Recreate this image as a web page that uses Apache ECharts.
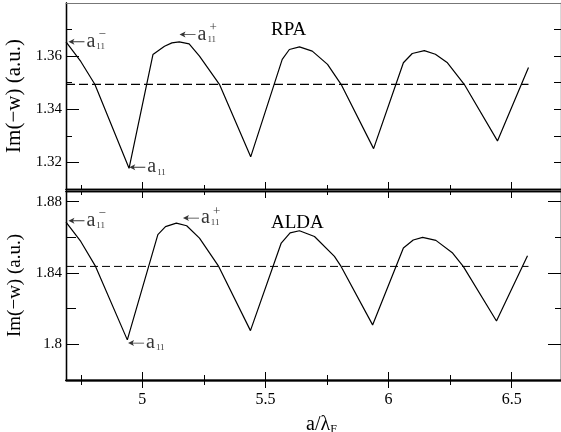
<!DOCTYPE html>
<html><head><meta charset="utf-8">
<script src="https://cdn.jsdelivr.net/npm/echarts@6/dist/echarts.min.js"></script>
<style>html,body{margin:0;padding:0;background:#fff}#c{width:561px;height:432px}</style>
</head><body><div id="c"></div>
<script>
// ---- data ----
const xRPA = [4.69, 4.75, 4.807, 4.946, 5.043, 5.09, 5.12, 5.15, 5.19, 5.232, 5.27, 5.313, 5.44, 5.568, 5.597, 5.638, 5.69, 5.752, 5.807, 5.939, 6.06, 6.096, 6.145, 6.19, 6.239, 6.307, 6.442, 6.568];
const yRPA = [1.3654, 1.358, 1.3494, 1.3178, 1.3606, 1.3637, 1.3650, 1.3654, 1.3646, 1.3600, 1.3550, 1.3494, 1.3221, 1.3588, 1.3625, 1.3635, 1.3619, 1.3569, 1.3494, 1.3252, 1.3575, 1.3610, 1.3621, 1.3607, 1.3575, 1.3494, 1.3281, 1.3557];
const xALDA = [4.69, 4.75, 4.81, 4.939, 5.063, 5.094, 5.138, 5.18, 5.232, 5.31, 5.439, 5.564, 5.60, 5.638, 5.699, 5.78, 5.807, 5.935, 6.06, 6.10, 6.138, 6.192, 6.26, 6.303, 6.438, 6.564];
const yALDA = [1.8686, 1.8577, 1.8437, 1.8025, 1.8615, 1.8660, 1.8680, 1.8665, 1.8596, 1.8437, 1.8077, 1.8568, 1.8625, 1.8637, 1.8605, 1.8493, 1.8437, 1.8109, 1.8540, 1.8585, 1.8600, 1.8583, 1.8512, 1.8437, 1.8131, 1.8497];
const refRPA = 1.3494, refALDA = 1.8437;
const refX = [4.69, 6.568];
const xMajor = [5, 5.5, 6, 6.5], xMinor = [4.75, 5.25, 5.75, 6.25];
const yMajorRPA = [1.32, 1.34, 1.36], yMinorRPA = [1.33, 1.35, 1.37];
const yMajorALDA = [1.80, 1.84, 1.88], yMinorALDA = [1.82, 1.86];
// annotations: [x, y, superscript]
const annRPA = [[4.70, 1.3654, '−'], [4.947, 1.3182, ''], [5.151, 1.3681, '+']];
const annALDA = [[4.70, 1.8693, '−'], [4.942, 1.8007, ''], [5.165, 1.8708, '+']];
const panelNames = ['RPA', 'ALDA'];

const SERIF = '"Liberation Serif", "DejaVu Serif", serif';
const xRange = {min: 4.69, max: 6.70};
const yRangeRPA = {min: 1.31, max: 1.38};
const yRangeALDA = {min: 1.78, max: 1.886};

function xAx(grid, pos, ticks, len, inside, extra) {
  return Object.assign({
    type: 'value', gridIndex: grid, position: pos, min: xRange.min, max: xRange.max,
    axisLine: {show: true, lineStyle: {color: '#000', width: 1.3}},
    axisTick: {show: true, customValues: ticks, inside: inside, length: len, lineStyle: {color: '#000', width: 1}},
    axisLabel: {show: false}, splitLine: {show: false}
  }, extra || {});
}
function yAx(grid, pos, rng, ticks, len, extra) {
  return Object.assign({
    type: 'value', gridIndex: grid, position: pos, min: rng.min, max: rng.max,
    axisLine: {show: true, lineStyle: {color: '#000', width: 1.3}},
    axisTick: {show: true, customValues: ticks, inside: true, length: len, lineStyle: {color: '#000', width: 1}},
    axisLabel: {show: false}, splitLine: {show: false}
  }, extra || {});
}
const labelY = (ticks) => ({show: true, customValues: ticks, fontFamily: SERIF, fontSize: 15, color: '#000', margin: 4,
  formatter: v => String(+v.toFixed(2))});

const xAxis = [
  xAx(0, 'bottom', xMajor, 7, true),                 //0
  xAx(0, 'bottom', xMinor, 4, true),                 //1
  xAx(0, 'top', [], 0, true, {axisLine: {show: true, lineStyle: {color: '#777', width: 1}}}), //2
  xAx(1, 'bottom', xMajor, 8, true, {
    axisLabel: {show: true, customValues: xMajor, fontFamily: SERIF, fontSize: 16, color: '#000', margin: 12},
    name: 'a/λ{s|F}', nameLocation: 'middle', nameGap: 34,
    nameTextStyle: {fontFamily: SERIF, fontSize: 20, color: '#000', padding: [0, 0, 0, 16],
      rich: {s: {fontFamily: SERIF, fontSize: 12, color: '#000', verticalAlign: 'bottom', padding: [10, 0, 0, 0]}}}
  }),                                               //3
  xAx(1, 'bottom', xMajor, 8, false),                //4
  xAx(1, 'bottom', xMinor, 5, true),                 //5
  xAx(1, 'bottom', xMinor, 5, false),                //6
  xAx(1, 'top', xMajor, 7, true),                    //7
  xAx(1, 'top', xMinor, 4, true)                     //8
];
const yAxis = [
  yAx(0, 'left', yRangeRPA, yMajorRPA, 13, {axisLabel: labelY(yMajorRPA),
    name: 'Im(−w) (a.u.)', nameLocation: 'middle', nameGap: 36,
    nameTextStyle: {fontFamily: SERIF, fontSize: 21, color: '#000'}}), //0
  yAx(0, 'left', yRangeRPA, yMinorRPA, 6),          //1
  yAx(0, 'right', yRangeRPA, yMajorRPA.concat(yMinorRPA), 7), //2
  yAx(1, 'left', yRangeALDA, yMajorALDA, 13, {axisLabel: labelY(yMajorALDA),
    name: 'Im(−w) (a.u.)', nameLocation: 'middle', nameGap: 36,
    nameTextStyle: {fontFamily: SERIF, fontSize: 19, color: '#000'}}), //3
  yAx(1, 'left', yRangeALDA, yMinorALDA, 10),       //4
  yAx(1, 'right', yRangeALDA, yMajorALDA, 13),      //5
  yAx(1, 'right', yRangeALDA, yMinorALDA, 6)        //6
];

const arrowPath = 'path://M0,5 L9,0 L7,4.3 L24,4.3 L24,5.7 L7,5.7 L9,10 Z';
function annSeries(ann, xi, yi) {
  return [{
    type: 'scatter', xAxisIndex: xi, yAxisIndex: yi, silent: true, z: 5,
    symbol: arrowPath, symbolSize: [16, 6], symbolOffset: ['50%', 0], symbolKeepAspect: false,
    itemStyle: {color: '#000'},
    data: ann.map(a => [a[0], a[1]]),
    label: {show: true, position: 'right', distance: 2, color: '#000',
      formatter: '{a|a}{s|11}',
      rich: {a: {fontFamily: SERIF, fontSize: 20, color: '#000'},
             s: {fontFamily: SERIF, fontSize: 9, color: '#000', padding: [10, 0, 0, 1]}}}
  }, {
    type: 'scatter', xAxisIndex: xi, yAxisIndex: yi, silent: true, z: 5,
    symbol: 'rect', symbolSize: [16, 6], symbolOffset: ['50%', 0],
    itemStyle: {color: 'rgba(0,0,0,0)'},
    data: ann.map(a => ({value: [a[0], a[1]], label: {formatter: a[2]}})),
    label: {show: true, position: 'right', distance: 2, offset: [12, -7], color: '#000',
      fontFamily: SERIF, fontSize: 13}
  }];
}

const lineStyle = {color: '#000', width: 1.2};
const option = {
  backgroundColor: '#fff',
  animation: false,
  grid: [
    {left: 66, right: 0, top: 3, bottom: 243, outerBoundsMode: 'none', containLabel: false},
    {left: 66, right: 0, top: 191, bottom: 52, outerBoundsMode: 'none', containLabel: false}
  ],
  title: [
    {text: panelNames[0], left: 266, top: 16, textStyle: {fontFamily: SERIF, fontSize: 19, fontWeight: 'normal', color: '#000'}},
    {text: panelNames[1], left: 266, top: 209, textStyle: {fontFamily: SERIF, fontSize: 19, fontWeight: 'normal', color: '#000'}}
  ],
  xAxis, yAxis,
  series: [
    {type: 'line', xAxisIndex: 0, yAxisIndex: 0, data: xRPA.map((x, i) => [x, yRPA[i]]), showSymbol: false, lineStyle},
    {type: 'line', xAxisIndex: 0, yAxisIndex: 0, data: refX.map(x => [x, refRPA]), showSymbol: false,
      lineStyle: {color: '#000', width: 1.2, type: [9, 4]}},
    {type: 'line', xAxisIndex: 3, yAxisIndex: 3, data: xALDA.map((x, i) => [x, yALDA[i]]), showSymbol: false, lineStyle},
    {type: 'line', xAxisIndex: 3, yAxisIndex: 3, data: refX.map(x => [x, refALDA]), showSymbol: false,
      lineStyle: {color: '#000', width: 1, type: [8, 4]}},
    ...annSeries(annRPA, 0, 0),
    ...annSeries(annALDA, 3, 3)
  ]
};
echarts.init(document.getElementById('c'), null, {renderer: 'canvas'}).setOption(option);
</script></body></html>
